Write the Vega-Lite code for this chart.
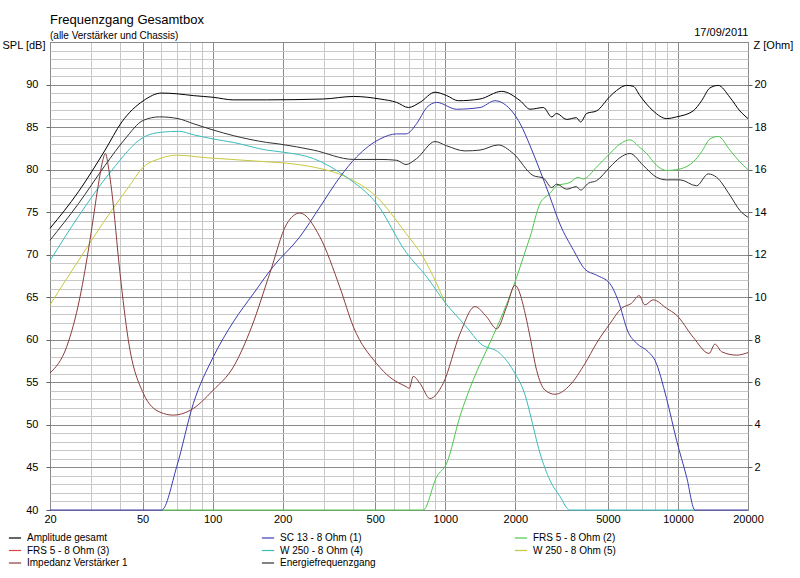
{
  "$schema": "https://vega.github.io/schema/vega-lite/v6.json",
  "width": 698,
  "height": 468,
  "autosize": "none",
  "padding": {"left": 50, "top": 42, "right": 52, "bottom": 68},
  "background": "white",
  "config": {
    "font": "Liberation Sans",
    "view": {"stroke": "#808080"},
    "axis": {"labelFontSize": 11, "labelColor": "black", "titleColor": "black", "titleFontWeight": "normal", "titleFontSize": 11, "labelFont": "Liberation Sans", "titleFont": "Liberation Sans"}
  },
  "title": {
    "text": "Frequenzgang Gesamtbox",
    "subtitle": "(alle Verstärker und Chassis)",
    "anchor": "start",
    "frame": "group",
    "fontSize": 13,
    "fontWeight": "normal",
    "color": "black",
    "subtitleFontSize": 10,
    "subtitleColor": "black",
    "subtitlePadding": 4,
    "offset": -15
  },
  "datasets": {
    "spl": [
      {"series": "W 250 - 8 Ohm (5)", "freq": 20, "spl": 64.1},
      {"series": "W 250 - 8 Ohm (5)", "freq": 23.6, "spl": 67.2},
      {"series": "W 250 - 8 Ohm (5)", "freq": 26.5, "spl": 69.3},
      {"series": "W 250 - 8 Ohm (5)", "freq": 31.2, "spl": 72.3},
      {"series": "W 250 - 8 Ohm (5)", "freq": 36.8, "spl": 75.2},
      {"series": "W 250 - 8 Ohm (5)", "freq": 43.4, "spl": 77.9},
      {"series": "W 250 - 8 Ohm (5)", "freq": 50.4, "spl": 80.3},
      {"series": "W 250 - 8 Ohm (5)", "freq": 59.4, "spl": 81.3},
      {"series": "W 250 - 8 Ohm (5)", "freq": 70, "spl": 81.7},
      {"series": "W 250 - 8 Ohm (5)", "freq": 94.3, "spl": 81.4},
      {"series": "W 250 - 8 Ohm (5)", "freq": 154.6, "spl": 81.0},
      {"series": "W 250 - 8 Ohm (5)", "freq": 233, "spl": 80.6},
      {"series": "W 250 - 8 Ohm (5)", "freq": 271, "spl": 80.3},
      {"series": "W 250 - 8 Ohm (5)", "freq": 377, "spl": 79.1},
      {"series": "W 250 - 8 Ohm (5)", "freq": 507, "spl": 76.8},
      {"series": "W 250 - 8 Ohm (5)", "freq": 678, "spl": 72.5},
      {"series": "W 250 - 8 Ohm (5)", "freq": 804, "spl": 69.7},
      {"series": "W 250 - 8 Ohm (5)", "freq": 918, "spl": 66.6},
      {"series": "W 250 - 8 Ohm (5)", "freq": 997, "spl": 64.4},

      {"series": "W 250 - 8 Ohm (4)", "freq": 20, "spl": 69.3},
      {"series": "W 250 - 8 Ohm (4)", "freq": 26.5, "spl": 74.5},
      {"series": "W 250 - 8 Ohm (4)", "freq": 36.8, "spl": 79.9},
      {"series": "W 250 - 8 Ohm (4)", "freq": 50.4, "spl": 83.8},
      {"series": "W 250 - 8 Ohm (4)", "freq": 60.4, "spl": 84.4},
      {"series": "W 250 - 8 Ohm (4)", "freq": 72, "spl": 84.5},
      {"series": "W 250 - 8 Ohm (4)", "freq": 82.6, "spl": 84.1},
      {"series": "W 250 - 8 Ohm (4)", "freq": 100.7, "spl": 83.6},
      {"series": "W 250 - 8 Ohm (4)", "freq": 122.7, "spl": 83.2},
      {"series": "W 250 - 8 Ohm (4)", "freq": 170.6, "spl": 82.3},
      {"series": "W 250 - 8 Ohm (4)", "freq": 194.7, "spl": 82.1},
      {"series": "W 250 - 8 Ohm (4)", "freq": 271, "spl": 81.3},
      {"series": "W 250 - 8 Ohm (4)", "freq": 377, "spl": 79.1},
      {"series": "W 250 - 8 Ohm (4)", "freq": 507, "spl": 76.0},
      {"series": "W 250 - 8 Ohm (4)", "freq": 678, "spl": 70.3},
      {"series": "W 250 - 8 Ohm (4)", "freq": 832, "spl": 67.4},
      {"series": "W 250 - 8 Ohm (4)", "freq": 997, "spl": 64.4},
      {"series": "W 250 - 8 Ohm (4)", "freq": 1234, "spl": 61.5},
      {"series": "W 250 - 8 Ohm (4)", "freq": 1410, "spl": 59.6},
      {"series": "W 250 - 8 Ohm (4)", "freq": 1718, "spl": 58.4},
      {"series": "W 250 - 8 Ohm (4)", "freq": 1959, "spl": 56.4},
      {"series": "W 250 - 8 Ohm (4)", "freq": 2237, "spl": 52.9},
      {"series": "W 250 - 8 Ohm (4)", "freq": 2315, "spl": 51.3},
      {"series": "W 250 - 8 Ohm (4)", "freq": 2552, "spl": 46.7},
      {"series": "W 250 - 8 Ohm (4)", "freq": 2817, "spl": 43.5},
      {"series": "W 250 - 8 Ohm (4)", "freq": 3110, "spl": 41.6},
      {"series": "W 250 - 8 Ohm (4)", "freq": 3420, "spl": 40},
      {"series": "W 250 - 8 Ohm (4)", "freq": 11830, "spl": 40},

      {"series": "FRS 5 - 8 Ohm (2)", "freq": 60.4, "spl": 40},
      {"series": "FRS 5 - 8 Ohm (2)", "freq": 804, "spl": 40},
      {"series": "FRS 5 - 8 Ohm (2)", "freq": 918, "spl": 43.9},
      {"series": "FRS 5 - 8 Ohm (2)", "freq": 1014, "spl": 45.5},
      {"series": "FRS 5 - 8 Ohm (2)", "freq": 1156, "spl": 51.0},
      {"series": "FRS 5 - 8 Ohm (2)", "freq": 1319, "spl": 55.3},
      {"series": "FRS 5 - 8 Ohm (2)", "freq": 1505, "spl": 58.8},
      {"series": "FRS 5 - 8 Ohm (2)", "freq": 1718, "spl": 62.3},
      {"series": "FRS 5 - 8 Ohm (2)", "freq": 1959, "spl": 66.2},
      {"series": "FRS 5 - 8 Ohm (2)", "freq": 2237, "spl": 70.9},
      {"series": "FRS 5 - 8 Ohm (2)", "freq": 2315, "spl": 72.1},
      {"series": "FRS 5 - 8 Ohm (2)", "freq": 2552, "spl": 76.0},
      {"series": "FRS 5 - 8 Ohm (2)", "freq": 2817, "spl": 77.2},
      {"series": "FRS 5 - 8 Ohm (2)", "freq": 3012, "spl": 78.1},
      {"series": "FRS 5 - 8 Ohm (2)", "freq": 3440, "spl": 78.5},
      {"series": "FRS 5 - 8 Ohm (2)", "freq": 3724, "spl": 79.1},
      {"series": "FRS 5 - 8 Ohm (2)", "freq": 3914, "spl": 78.9},
      {"series": "FRS 5 - 8 Ohm (2)", "freq": 4467, "spl": 80.3},
      {"series": "FRS 5 - 8 Ohm (2)", "freq": 5100, "spl": 81.9},
      {"series": "FRS 5 - 8 Ohm (2)", "freq": 5628, "spl": 83.0},
      {"series": "FRS 5 - 8 Ohm (2)", "freq": 6214, "spl": 83.5},
      {"series": "FRS 5 - 8 Ohm (2)", "freq": 6860, "spl": 82.6},
      {"series": "FRS 5 - 8 Ohm (2)", "freq": 7330, "spl": 81.9},
      {"series": "FRS 5 - 8 Ohm (2)", "freq": 8093, "spl": 80.5},
      {"series": "FRS 5 - 8 Ohm (2)", "freq": 8933, "spl": 79.9},
      {"series": "FRS 5 - 8 Ohm (2)", "freq": 9862, "spl": 80.0},
      {"series": "FRS 5 - 8 Ohm (2)", "freq": 11628, "spl": 80.9},
      {"series": "FRS 5 - 8 Ohm (2)", "freq": 12636, "spl": 82.1},
      {"series": "FRS 5 - 8 Ohm (2)", "freq": 13720, "spl": 83.6},
      {"series": "FRS 5 - 8 Ohm (2)", "freq": 14900, "spl": 83.9},
      {"series": "FRS 5 - 8 Ohm (2)", "freq": 16720, "spl": 82.3},
      {"series": "FRS 5 - 8 Ohm (2)", "freq": 18460, "spl": 80.9},
      {"series": "FRS 5 - 8 Ohm (2)", "freq": 20000, "spl": 80.0},

      {"series": "SC 13 - 8 Ohm (1)", "freq": 20, "spl": 40},
      {"series": "SC 13 - 8 Ohm (1)", "freq": 60.4, "spl": 40},
      {"series": "SC 13 - 8 Ohm (1)", "freq": 70.1, "spl": 45.1},
      {"series": "SC 13 - 8 Ohm (1)", "freq": 82.6, "spl": 52.5},
      {"series": "SC 13 - 8 Ohm (1)", "freq": 100.7, "spl": 58.0},
      {"series": "SC 13 - 8 Ohm (1)", "freq": 122.7, "spl": 62.1},
      {"series": "SC 13 - 8 Ohm (1)", "freq": 149.5, "spl": 65.4},
      {"series": "SC 13 - 8 Ohm (1)", "freq": 182, "spl": 68.6},
      {"series": "SC 13 - 8 Ohm (1)", "freq": 237, "spl": 72.1},
      {"series": "SC 13 - 8 Ohm (1)", "freq": 289, "spl": 75.6},
      {"series": "SC 13 - 8 Ohm (1)", "freq": 352, "spl": 79.1},
      {"series": "SC 13 - 8 Ohm (1)", "freq": 416, "spl": 81.5},
      {"series": "SC 13 - 8 Ohm (1)", "freq": 524, "spl": 83.6},
      {"series": "SC 13 - 8 Ohm (1)", "freq": 618, "spl": 84.2},
      {"series": "SC 13 - 8 Ohm (1)", "freq": 678, "spl": 84.2},
      {"series": "SC 13 - 8 Ohm (1)", "freq": 753, "spl": 85.4},
      {"series": "SC 13 - 8 Ohm (1)", "freq": 832, "spl": 87.3},
      {"series": "SC 13 - 8 Ohm (1)", "freq": 918, "spl": 87.9},
      {"series": "SC 13 - 8 Ohm (1)", "freq": 1119, "spl": 87.1},
      {"series": "SC 13 - 8 Ohm (1)", "freq": 1410, "spl": 87.3},
      {"series": "SC 13 - 8 Ohm (1)", "freq": 1635, "spl": 88.1},
      {"series": "SC 13 - 8 Ohm (1)", "freq": 1835, "spl": 87.5},
      {"series": "SC 13 - 8 Ohm (1)", "freq": 2098, "spl": 85.4},
      {"series": "SC 13 - 8 Ohm (1)", "freq": 2315, "spl": 82.8},
      {"series": "SC 13 - 8 Ohm (1)", "freq": 2552, "spl": 79.9},
      {"series": "SC 13 - 8 Ohm (1)", "freq": 2817, "spl": 76.8},
      {"series": "SC 13 - 8 Ohm (1)", "freq": 3110, "spl": 73.6},
      {"series": "SC 13 - 8 Ohm (1)", "freq": 3563, "spl": 70.5},
      {"series": "SC 13 - 8 Ohm (1)", "freq": 3981, "spl": 68.3},
      {"series": "SC 13 - 8 Ohm (1)", "freq": 4467, "spl": 67.6},
      {"series": "SC 13 - 8 Ohm (1)", "freq": 5100, "spl": 66.6},
      {"series": "SC 13 - 8 Ohm (1)", "freq": 5537, "spl": 64.6},
      {"series": "SC 13 - 8 Ohm (1)", "freq": 6110, "spl": 60.9},
      {"series": "SC 13 - 8 Ohm (1)", "freq": 6637, "spl": 59.6},
      {"series": "SC 13 - 8 Ohm (1)", "freq": 7449, "spl": 58.6},
      {"series": "SC 13 - 8 Ohm (1)", "freq": 7962, "spl": 57.6},
      {"series": "SC 13 - 8 Ohm (1)", "freq": 8933, "spl": 53.1},
      {"series": "SC 13 - 8 Ohm (1)", "freq": 9862, "spl": 48.2},
      {"series": "SC 13 - 8 Ohm (1)", "freq": 10890, "spl": 43.9},
      {"series": "SC 13 - 8 Ohm (1)", "freq": 11830, "spl": 40},
      {"series": "SC 13 - 8 Ohm (1)", "freq": 20000, "spl": 40},

      {"series": "Energiefrequenzgang", "freq": 20, "spl": 71.7},
      {"series": "Energiefrequenzgang", "freq": 26.5, "spl": 76.0},
      {"series": "Energiefrequenzgang", "freq": 34.5, "spl": 80.5},
      {"series": "Energiefrequenzgang", "freq": 42, "spl": 83.6},
      {"series": "Energiefrequenzgang", "freq": 50.4, "spl": 85.8},
      {"series": "Energiefrequenzgang", "freq": 59.2, "spl": 86.2},
      {"series": "Energiefrequenzgang", "freq": 71, "spl": 86.0},
      {"series": "Energiefrequenzgang", "freq": 82.6, "spl": 85.4},
      {"series": "Energiefrequenzgang", "freq": 122.7, "spl": 84.0},
      {"series": "Energiefrequenzgang", "freq": 170.6, "spl": 83.2},
      {"series": "Energiefrequenzgang", "freq": 194.7, "spl": 83.0},
      {"series": "Energiefrequenzgang", "freq": 271, "spl": 82.3},
      {"series": "Energiefrequenzgang", "freq": 403, "spl": 81.2},
      {"series": "Energiefrequenzgang", "freq": 524, "spl": 81.2},
      {"series": "Energiefrequenzgang", "freq": 618, "spl": 81.1},
      {"series": "Energiefrequenzgang", "freq": 678, "spl": 80.6},
      {"series": "Energiefrequenzgang", "freq": 753, "spl": 81.3},
      {"series": "Energiefrequenzgang", "freq": 903, "spl": 83.3},
      {"series": "Energiefrequenzgang", "freq": 1014, "spl": 82.8},
      {"series": "Energiefrequenzgang", "freq": 1215, "spl": 82.2},
      {"series": "Energiefrequenzgang", "freq": 1410, "spl": 82.3},
      {"series": "Energiefrequenzgang", "freq": 1689, "spl": 82.9},
      {"series": "Energiefrequenzgang", "freq": 1959, "spl": 81.9},
      {"series": "Energiefrequenzgang", "freq": 2388, "spl": 79.3},
      {"series": "Energiefrequenzgang", "freq": 2641, "spl": 79.0},
      {"series": "Energiefrequenzgang", "freq": 2866, "spl": 77.9},
      {"series": "Energiefrequenzgang", "freq": 3012, "spl": 78.3},
      {"series": "Energiefrequenzgang", "freq": 3320, "spl": 77.7},
      {"series": "Energiefrequenzgang", "freq": 3660, "spl": 78.0},
      {"series": "Energiefrequenzgang", "freq": 3817, "spl": 77.6},
      {"series": "Energiefrequenzgang", "freq": 4119, "spl": 78.4},
      {"series": "Energiefrequenzgang", "freq": 4467, "spl": 78.7},
      {"series": "Energiefrequenzgang", "freq": 5100, "spl": 80.3},
      {"series": "Energiefrequenzgang", "freq": 5628, "spl": 81.4},
      {"series": "Energiefrequenzgang", "freq": 6214, "spl": 81.9},
      {"series": "Energiefrequenzgang", "freq": 7089, "spl": 80.5},
      {"series": "Energiefrequenzgang", "freq": 8093, "spl": 79.1},
      {"series": "Energiefrequenzgang", "freq": 8933, "spl": 78.8},
      {"series": "Energiefrequenzgang", "freq": 10210, "spl": 78.8},
      {"series": "Energiefrequenzgang", "freq": 12020, "spl": 78.1},
      {"series": "Energiefrequenzgang", "freq": 13490, "spl": 79.5},
      {"series": "Energiefrequenzgang", "freq": 14660, "spl": 79.1},
      {"series": "Energiefrequenzgang", "freq": 16720, "spl": 77.0},
      {"series": "Energiefrequenzgang", "freq": 18460, "spl": 75.2},
      {"series": "Energiefrequenzgang", "freq": 20000, "spl": 74.4},

      {"series": "Amplitude gesamt", "freq": 20, "spl": 73.1},
      {"series": "Amplitude gesamt", "freq": 26.5, "spl": 77.4},
      {"series": "Amplitude gesamt", "freq": 34.5, "spl": 82.3},
      {"series": "Amplitude gesamt", "freq": 40.7, "spl": 85.6},
      {"series": "Amplitude gesamt", "freq": 50.4, "spl": 88.1},
      {"series": "Amplitude gesamt", "freq": 60.4, "spl": 89.0},
      {"series": "Amplitude gesamt", "freq": 71, "spl": 88.9},
      {"series": "Amplitude gesamt", "freq": 82.6, "spl": 88.7},
      {"series": "Amplitude gesamt", "freq": 100.7, "spl": 88.5},
      {"series": "Amplitude gesamt", "freq": 122.7, "spl": 88.2},
      {"series": "Amplitude gesamt", "freq": 170.6, "spl": 88.2},
      {"series": "Amplitude gesamt", "freq": 299, "spl": 88.3},
      {"series": "Amplitude gesamt", "freq": 403, "spl": 88.6},
      {"series": "Amplitude gesamt", "freq": 524, "spl": 88.3},
      {"series": "Amplitude gesamt", "freq": 618, "spl": 87.9},
      {"series": "Amplitude gesamt", "freq": 694, "spl": 87.3},
      {"series": "Amplitude gesamt", "freq": 778, "spl": 87.9},
      {"series": "Amplitude gesamt", "freq": 903, "spl": 89.1},
      {"series": "Amplitude gesamt", "freq": 1014, "spl": 88.7},
      {"series": "Amplitude gesamt", "freq": 1137, "spl": 88.1},
      {"series": "Amplitude gesamt", "freq": 1410, "spl": 88.3},
      {"series": "Amplitude gesamt", "freq": 1746, "spl": 89.2},
      {"series": "Amplitude gesamt", "freq": 2098, "spl": 88.1},
      {"series": "Amplitude gesamt", "freq": 2315, "spl": 87.1},
      {"series": "Amplitude gesamt", "freq": 2641, "spl": 87.3},
      {"series": "Amplitude gesamt", "freq": 2866, "spl": 86.2},
      {"series": "Amplitude gesamt", "freq": 3012, "spl": 86.6},
      {"series": "Amplitude gesamt", "freq": 3320, "spl": 85.9},
      {"series": "Amplitude gesamt", "freq": 3660, "spl": 86.1},
      {"series": "Amplitude gesamt", "freq": 3817, "spl": 85.6},
      {"series": "Amplitude gesamt", "freq": 4050, "spl": 86.6},
      {"series": "Amplitude gesamt", "freq": 4467, "spl": 86.9},
      {"series": "Amplitude gesamt", "freq": 5100, "spl": 88.6},
      {"series": "Amplitude gesamt", "freq": 5446, "spl": 89.3},
      {"series": "Amplitude gesamt", "freq": 6012, "spl": 89.9},
      {"series": "Amplitude gesamt", "freq": 6424, "spl": 89.8},
      {"series": "Amplitude gesamt", "freq": 6860, "spl": 88.7},
      {"series": "Amplitude gesamt", "freq": 7828, "spl": 86.9},
      {"series": "Amplitude gesamt", "freq": 8933, "spl": 86.0},
      {"series": "Amplitude gesamt", "freq": 9862, "spl": 86.2},
      {"series": "Amplitude gesamt", "freq": 11628, "spl": 86.9},
      {"series": "Amplitude gesamt", "freq": 12636, "spl": 88.1},
      {"series": "Amplitude gesamt", "freq": 13720, "spl": 89.6},
      {"series": "Amplitude gesamt", "freq": 14900, "spl": 89.9},
      {"series": "Amplitude gesamt", "freq": 16720, "spl": 88.5},
      {"series": "Amplitude gesamt", "freq": 18460, "spl": 86.9},
      {"series": "Amplitude gesamt", "freq": 20000, "spl": 86.0}
    ],
    "imp": [
      {"series": "Impedanz Verstärker 1", "freq": 20, "z": 6.44},
      {"series": "Impedanz Verstärker 1", "freq": 23.6, "z": 7.68},
      {"series": "Impedanz Verstärker 1", "freq": 26.9, "z": 10.0},
      {"series": "Impedanz Verstärker 1", "freq": 29.7, "z": 12.68},
      {"series": "Impedanz Verstärker 1", "freq": 32.3, "z": 15.32},
      {"series": "Impedanz Verstärker 1", "freq": 33.5, "z": 16.3},
      {"series": "Impedanz Verstärker 1", "freq": 34.6, "z": 16.76},
      {"series": "Impedanz Verstärker 1", "freq": 35.8, "z": 16.0},
      {"series": "Impedanz Verstärker 1", "freq": 36.8, "z": 15.04},
      {"series": "Impedanz Verstärker 1", "freq": 40, "z": 11.12},
      {"series": "Impedanz Verstärker 1", "freq": 43.4, "z": 8.0},
      {"series": "Impedanz Verstärker 1", "freq": 50.4, "z": 5.48},
      {"series": "Impedanz Verstärker 1", "freq": 59.4, "z": 4.6},
      {"series": "Impedanz Verstärker 1", "freq": 67.8, "z": 4.46},
      {"series": "Impedanz Verstärker 1", "freq": 80, "z": 4.68},
      {"series": "Impedanz Verstärker 1", "freq": 100.7, "z": 5.64},
      {"series": "Impedanz Verstärker 1", "freq": 122.7, "z": 6.72},
      {"series": "Impedanz Verstärker 1", "freq": 147, "z": 8.6},
      {"series": "Impedanz Verstärker 1", "freq": 176, "z": 11.12},
      {"series": "Impedanz Verstärker 1", "freq": 208, "z": 13.44},
      {"series": "Impedanz Verstärker 1", "freq": 237, "z": 13.96},
      {"series": "Impedanz Verstärker 1", "freq": 289, "z": 12.84},
      {"series": "Impedanz Verstärker 1", "freq": 352, "z": 10.48},
      {"series": "Impedanz Verstärker 1", "freq": 403, "z": 8.6},
      {"series": "Impedanz Verstärker 1", "freq": 507, "z": 6.88},
      {"series": "Impedanz Verstärker 1", "freq": 578, "z": 6.24},
      {"series": "Impedanz Verstärker 1", "freq": 678, "z": 5.8},
      {"series": "Impedanz Verstärker 1", "freq": 700, "z": 5.72},
      {"series": "Impedanz Verstärker 1", "freq": 728, "z": 6.28},
      {"series": "Impedanz Verstärker 1", "freq": 778, "z": 5.96},
      {"series": "Impedanz Verstärker 1", "freq": 859, "z": 5.24},
      {"series": "Impedanz Verstärker 1", "freq": 980, "z": 5.96},
      {"series": "Impedanz Verstärker 1", "freq": 1156, "z": 8.28},
      {"series": "Impedanz Verstärker 1", "freq": 1341, "z": 9.56},
      {"series": "Impedanz Verstärker 1", "freq": 1505, "z": 9.08},
      {"series": "Impedanz Verstärker 1", "freq": 1662, "z": 8.52},
      {"series": "Impedanz Verstärker 1", "freq": 1835, "z": 9.56},
      {"series": "Impedanz Verstärker 1", "freq": 1991, "z": 10.56},
      {"series": "Impedanz Verstärker 1", "freq": 2237, "z": 8.92},
      {"series": "Impedanz Verstärker 1", "freq": 2315, "z": 8.12},
      {"series": "Impedanz Verstärker 1", "freq": 2470, "z": 6.56},
      {"series": "Impedanz Verstärker 1", "freq": 2681, "z": 5.64},
      {"series": "Impedanz Verstärker 1", "freq": 2960, "z": 5.44},
      {"series": "Impedanz Verstärker 1", "freq": 3440, "z": 5.88},
      {"series": "Impedanz Verstärker 1", "freq": 3981, "z": 6.88},
      {"series": "Impedanz Verstärker 1", "freq": 4467, "z": 7.84},
      {"series": "Impedanz Verstärker 1", "freq": 5100, "z": 8.76},
      {"series": "Impedanz Verstärker 1", "freq": 5721, "z": 9.48},
      {"series": "Impedanz Verstärker 1", "freq": 6318, "z": 9.72},
      {"series": "Impedanz Verstärker 1", "freq": 6812, "z": 10.08},
      {"series": "Impedanz Verstärker 1", "freq": 7206, "z": 9.64},
      {"series": "Impedanz Verstärker 1", "freq": 7828, "z": 9.88},
      {"series": "Impedanz Verstärker 1", "freq": 8933, "z": 9.48},
      {"series": "Impedanz Verstärker 1", "freq": 9862, "z": 9.16},
      {"series": "Impedanz Verstärker 1", "freq": 11628, "z": 8.12},
      {"series": "Impedanz Verstärker 1", "freq": 13610, "z": 7.36},
      {"series": "Impedanz Verstärker 1", "freq": 14420, "z": 7.8},
      {"series": "Impedanz Verstärker 1", "freq": 15400, "z": 7.44},
      {"series": "Impedanz Verstärker 1", "freq": 17860, "z": 7.28},
      {"series": "Impedanz Verstärker 1", "freq": 20000, "z": 7.4}
    ]
  },
  "layer": [
    {
      "data": {"name": "spl"},
      "mark": {"type": "line", "strokeWidth": 1, "interpolate": "monotone"},
      "encoding": {
        "x": {
          "field": "freq",
          "type": "quantitative",
          "scale": {"type": "log", "domain": [20, 20000], "nice": false},
          "axis": {
            "orient": "bottom",
            "title": null,
            "values": [20, 30, 40, 50, 60, 70, 80, 90, 100, 200, 300, 400, 500, 600, 700, 800, 900, 1000, 2000, 3000, 4000, 5000, 6000, 7000, 8000, 9000, 10000, 20000],
            "labelExpr": "indexof([20, 50, 100, 200, 500, 1000, 2000, 5000, 10000, 20000], datum.value) >= 0 ? format(datum.value, 'd') : ''",
            "labelOverlap": false,
            "labelFlush": false,
            "labelPadding": 3,
            "ticks": false,
            "domain": false,
            "grid": true,
            "gridColor": {"condition": {"test": "indexof([20, 50, 100, 200, 500, 1000, 2000, 5000, 10000, 20000], datum.value) >= 0", "value": "#8a8a8a"}, "value": "#c8c8c8"},
            "gridOpacity": 1
          }
        },
        "y": {
          "field": "spl",
          "type": "quantitative",
          "scale": {"domain": [40, 95], "nice": false, "zero": false},
          "axis": {
            "orient": "left",
            "title": "SPL [dB]",
            "titleAngle": 0,
            "titleX": -5,
            "titleY": 3,
            "titleAlign": "right",
            "titleBaseline": "middle",
            "values": [40, 41, 42, 43, 44, 45, 46, 47, 48, 49, 50, 51, 52, 53, 54, 55, 56, 57, 58, 59, 60, 61, 62, 63, 64, 65, 66, 67, 68, 69, 70, 71, 72, 73, 74, 75, 76, 77, 78, 79, 80, 81, 82, 83, 84, 85, 86, 87, 88, 89, 90, 91, 92, 93, 94, 95],
            "labelExpr": "datum.value % 5 === 0 && datum.value <= 90 ? format(datum.value, 'd') : ''",
            "labelOverlap": false,
            "labelFlush": false,
            "labelPadding": 8,
            "tickSize": 4,
            "tickColor": "#606060",
            "tickOpacity": {"condition": {"test": "datum.value % 5 === 0 && datum.value <= 90", "value": 1}, "value": 0},
            "domain": false,
            "grid": true,
            "gridColor": {"condition": {"test": "datum.value % 5 === 0", "value": "#8a8a8a"}, "value": "#c8c8c8"},
            "gridOpacity": 1
          }
        },
        "color": {
          "field": "series",
          "type": "nominal",
          "scale": {
            "domain": ["Amplitude gesamt", "SC 13 - 8 Ohm (1)", "FRS 5 - 8 Ohm (2)", "FRS 5 - 8 Ohm (3)", "W 250 - 8 Ohm (4)", "W 250 - 8 Ohm (5)", "Impedanz Verstärker 1", "Energiefrequenzgang"],
            "range": ["#000000", "#3c3cb4", "#4cc84c", "#d84848", "#3cbcbc", "#c8c83c", "#8c3c3c", "#303030"]
          },
          "legend": {
            "orient": "none",
            "legendX": -42,
            "legendY": 489,
            "direction": "horizontal",
            "columns": 3,
            "title": null,
            "symbolType": "stroke",
            "symbolSize": 150,
            "symbolStrokeWidth": 1.2,
            "labelFontSize": 10,
            "labelColor": "black",
            "labelOffset": 5,
            "labelLimit": 200,
            "columnPadding": 131,
            "rowPadding": 0.5,
            "gridAlign": "all"
          }
        }
      }
    },
    {
      "data": {"name": "imp"},
      "mark": {"type": "line", "strokeWidth": 1, "interpolate": "monotone"},
      "encoding": {
        "x": {
          "field": "freq",
          "type": "quantitative",
          "scale": {"type": "log", "domain": [20, 20000], "nice": false},
          "axis": {
            "orient": "top",
            "title": "17/09/2011",
            "titleX": 698,
            "titleY": -7,
            "titleAlign": "right",
            "titleBaseline": "alphabetic",
            "labels": false,
            "ticks": false,
            "domain": false,
            "grid": false
          }
        },
        "y": {
          "field": "z",
          "type": "quantitative",
          "scale": {"domain": [0, 22], "nice": false, "zero": false},
          "axis": {
            "orient": "right",
            "title": "Z [Ohm]",
            "titleAngle": 0,
            "titleX": 5,
            "titleY": 3,
            "titleAlign": "left",
            "titleBaseline": "middle",
            "values": [2, 4, 6, 8, 10, 12, 14, 16, 18, 20],
            "labelPadding": 2,
            "tickSize": 4,
            "tickColor": "#606060",
            "domain": false,
            "grid": false
          }
        },
        "color": {"field": "series", "type": "nominal"}
      }
    }
  ],
  "resolve": {"scale": {"y": "independent"}, "axis": {"x": "independent", "y": "independent"}}
}
